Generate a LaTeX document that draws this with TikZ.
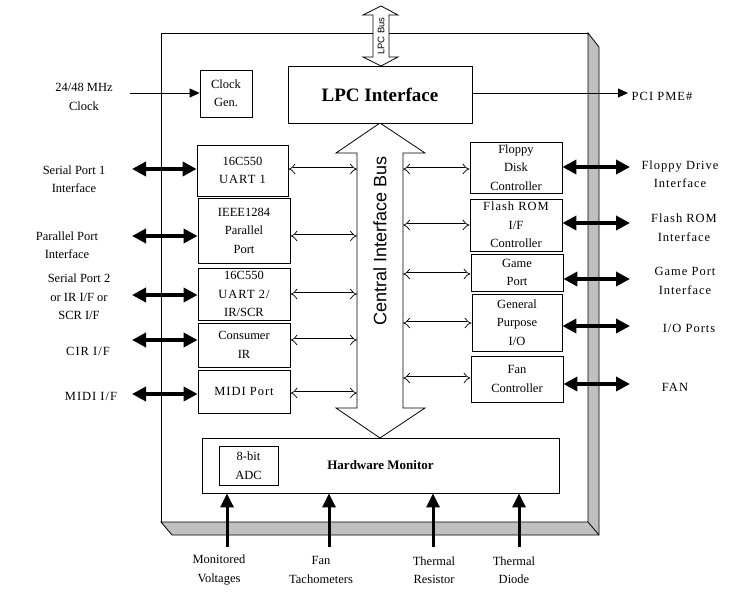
\documentclass[tikz,border=0pt]{standalone}
\usepackage{fontspec}
\setmainfont{Liberation Serif}
\setsansfont{Liberation Sans}
\newfontfamily\widefont[LetterSpace=8]{Liberation Serif}
\usetikzlibrary{arrows.meta}

\definecolor{bevel}{HTML}{C0C0C0}

\tikzset{
  blk/.style={draw, fill=white, line width=0.8pt, align=center, inner sep=0pt},
  lbl/.style={align=center, inner sep=0pt},
  wide/.style={font=\widefont\fontsize{12.5}{18.5}\selectfont},
  ext/.style={line width=3.5pt, {Triangle[length=14pt,width=14pt]}-{Triangle[length=14pt,width=14pt]}},
  sense/.style={line width=3pt, -{Triangle[length=14pt,width=13pt]}},
  link/.style={double, double distance=3pt, line width=0.7pt, {Implies}-{Implies}},
  wire/.style={line width=0.8pt, -{Triangle[length=10pt,width=9pt]}},
}

\begin{document}
\begin{tikzpicture}[x=1pt, y=-1pt, every node/.style={font=\fontsize{12.5}{18.5}\selectfont}] % one unit = one pixel

    % Frame
    \useasboundingbox (0,0) rectangle (746,591);
    \fill[white] (0,0) rectangle (746,591);

    % Dimensions of the chip body
    \def\chipL{161}
    \def\chipR{588}
    \def\chipT{33}
    \def\chipB{522}
    \def\depth{11}

    % Draw the chip body with its shaded edge
    \draw[line width=0.8pt, fill=white] (\chipL,\chipT) rectangle (\chipR,\chipB);
    \filldraw[line width=0.8pt, fill=bevel] (\chipR,\chipT) -- (\chipR+\depth,\chipT+14) -- (\chipR+\depth,\chipB+13)
        -- (\chipL+\depth,\chipB+13) -- (\chipL,\chipB) -- (\chipR,\chipB) -- cycle;
    \draw[line width=0.8pt] (\chipR,\chipB) -- (\chipR+\depth,\chipB+13);

    % Draw the LPC bus (hollow double arrow)
    \draw[line width=0.8pt, fill=white] (381,6) -- (398,15) -- (389,15) -- (389,57) -- (398,57) -- (381,66)
        -- (363,57) -- (373,57) -- (373,15) -- (363,15) -- cycle;
    \node[lbl, rotate=90, font=\sffamily\fontsize{9.5}{11}\selectfont] (lpcbus) at (381,36) {LPC Bus};

    % Draw the central interface bus
    \draw[line width=0.8pt, fill=white] (380,123) -- (425,153) -- (403,153) -- (403,408) -- (425,408) -- (380,438)
        -- (336,408) -- (357,408) -- (357,153) -- (336,153) -- cycle;
    \coordinate (busL) at (357,0);
    \coordinate (busR) at (403,0);
    \node[lbl, rotate=90, font=\sffamily\fontsize{18}{20}\selectfont] (cib) at (380,241) {Central Interface Bus};

    % Top blocks
    \node[blk, minimum width=52, minimum height=47] (clk) at (226,93.5) {Clock\\Gen.};
    \node[blk, minimum width=184, minimum height=57, font=\bfseries\fontsize{19}{22}\selectfont] (lpc) at (380,94.5) {LPC Interface};

    % Left blocks
    \node[blk, minimum width=91, minimum height=51] (uart1) at (242.5,170.5) {16C550\\{\widefont UART 1}};
    \node[blk, minimum width=92, minimum height=65] (ppt) at (244,230.5) {IEEE1284\\Parallel\\Port};
    \node[blk, minimum width=92, minimum height=52] (uart2) at (244,294) {16C550\\{\widefont UART 2/}\\IR/SCR};
    \node[blk, minimum width=92, minimum height=44] (cir) at (244,345) {Consumer\\IR};
    \node[blk, minimum width=92, minimum height=43] (midi) at (244,391.5) {\widefont MIDI Port};

    % Right blocks
    \node[blk, minimum width=92, minimum height=51] (fdc) at (516,167.5) {Floppy\\Disk\\Controller};
    \node[blk, minimum width=92, minimum height=52] (flash) at (516,225) {{\widefont Flash ROM}\\I/F\\Controller};
    \node[blk, minimum width=92, minimum height=37] (game) at (517,272.5) {Game\\Port};
    \node[blk, minimum width=90, minimum height=57] (gpio) at (517,322.5) {General\\Purpose\\I/O};
    \node[blk, minimum width=92, minimum height=46] (fan) at (517,379) {Fan\\Controller};

    % Hardware monitor
    \node[blk, minimum width=357, minimum height=55, font=\bfseries\fontsize{13}{15}\selectfont] (hwm) at (380.5,465.5) {Hardware Monitor};
    \node[blk, minimum width=59, minimum height=39] (adc) at (248.5,465.5) {8-bit\\ADC};

    % Links to the central bus
    \foreach \b/\y in {uart1/169, ppt/236, uart2/294, cir/340, midi/393}
        \draw[link] (\b.east |- 0,\y) -- (busL |- 0,\y);
    \foreach \b/\y in {fdc/169, flash/225, game/274, gpio/323, fan/378}
        \draw[link] (busR |- 0,\y) -- (\b.west |- 0,\y);

    % Outside labels, left
    \node[lbl] (clkin) at (84,97) {24/48 MHz\\Clock};
    \node[lbl] (ser1) at (74,179) {Serial Port 1\\Interface};
    \node[lbl] (par) at (67,245) {Parallel Port\\Interface};
    \node[lbl] (ser2) at (79,297) {Serial Port 2\\or IR I/F or\\SCR I/F};
    \node[lbl, wide] (cirif) at (88,351) {CIR I/F};
    \node[lbl, wide] (midiif) at (91,396) {MIDI I/F};

    % Outside labels, right
    \node[lbl, wide] (pme) at (662,96) {PCI PME\#};
    \node[lbl, wide] (fddif) at (680,174) {Floppy Drive\\Interface};
    \node[lbl, wide] (romif) at (684,227.5) {Flash ROM\\Interface};
    \node[lbl, wide] (gameif) at (685,281) {Game Port\\Interface};
    \node[lbl, wide] (ioports) at (689,328) {I/O Ports};
    \node[lbl, wide] (fanout) at (675,387) {FAN};

    % Outside labels, bottom
    \node[lbl] (volt) at (219,570) {Monitored\\Voltages};
    \node[lbl] (tach) at (321,570) {Fan\\Tachometers};
    \node[lbl] (tres) at (434,570) {Thermal\\Resistor};
    \node[lbl] (tdio) at (514,570) {Thermal\\Diode};

    % Clock and PME wires
    \coordinate (clkA) at (130,93);
    \coordinate (pmeA) at (628,93);
    \draw[wire] (clkA) -- (clk.west |- clkA);
    \draw[wire] (lpc.east |- pmeA) -- (pmeA);

    % Draw the external port arrows
    \foreach \b/\y in {uart1/169, ppt/236, uart2/295, cir/340, midi/394}
        \draw[ext] (132,\y) -- (\b.west |- 0,\y);
    \foreach \b/\y in {fdc/167, flash/223, game/279, gpio/326, fan/384}
        \draw[ext] (\b.east |- 0,\y) -- (630,\y);

    % Draw the sensor inputs
    \foreach \x in {227, 329, 433, 519}
        \draw[sense] (\x,547) -- (hwm.south -| \x,0);

\end{tikzpicture}
\end{document}
